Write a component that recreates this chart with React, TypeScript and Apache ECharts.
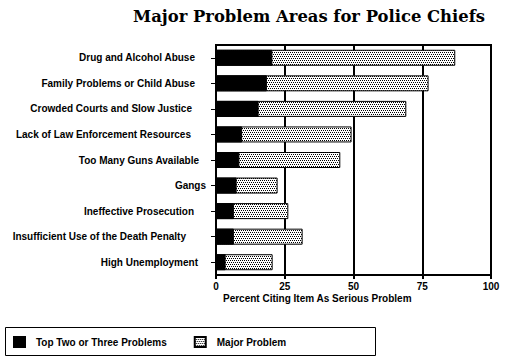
import React, { useEffect, useRef } from "react";
import * as echarts from "echarts";

const categories = [
  "Drug and Alcohol Abuse",
  "Family Problems or Child Abuse",
  "Crowded Courts and Slow Justice",
  "Lack of Law Enforcement Resources",
  "Too Many Guns Available",
  "Gangs",
  "Ineffective Prosecution",
  "Insufficient Use of the Death Penalty",
  "High Unemployment",
];
const topTwoOrThree = [20.5, 18.5, 15.5, 9.5, 8.5, 7.5, 6.5, 6.5, 3.5];
const majorProblem = [87, 77.3, 69.2, 49.3, 45.2, 22.4, 26.3, 31.5, 20.6];
const xTicks = [0, 25, 50, 75, 100];
// per-label extra right padding (layout only)
const labelPad = [11, 11, 14, 15, 7, 0, 12, 20, 8];

const FONT = "'Liberation Sans', Arial, sans-serif";

function makeDots(): string {
  const c = document.createElement("canvas");
  c.width = 4;
  c.height = 4;
  const ctx = c.getContext("2d")!;
  ctx.fillStyle = "#fff";
  ctx.fillRect(0, 0, 4, 4);
  ctx.fillStyle = "#000";
  [
    [0, 0],
    [2, 0],
    [1, 2],
    [3, 2],
  ].forEach(([x, y]) => ctx.fillRect(x, y, 1, 1));
  return c.toDataURL("image/png");
}

export default function App() {
  const ref = useRef<HTMLDivElement>(null);
  useEffect(() => {
    if (!ref.current) return;
    const chart = echarts.init(ref.current, undefined, { renderer: "svg" });
    const dots: any = { image: makeDots(), repeat: "repeat", imageWidth: 4, imageHeight: 4 };
    chart.setOption({
      animation: false,
      backgroundColor: "#fff",
      title: {
        text: "Major Problem Areas for Police Chiefs",
        left: 133,
        top: 8,
        padding: 0,
        textStyle: {
          fontFamily: "'DejaVu Serif', serif",
          fontWeight: "bold",
          fontSize: 16.4,
          color: "#000",
        },
      },
      grid: {
        left: 216,
        top: 45,
        width: 275,
        height: 230,
        show: true,
        borderColor: "#000",
        borderWidth: 2,
        backgroundColor: "transparent",
      },
      xAxis: {
        type: "value",
        min: 0,
        max: 100,
        interval: 25,
        axisLine: { show: true, lineStyle: { color: "#000", width: 2 } },
        axisTick: { show: true, length: 4, lineStyle: { color: "#000", width: 2 } },
        splitLine: { show: true, lineStyle: { color: "#000", width: 2 } },
        axisLabel: {
          margin: 6,
          color: "#000",
          fontFamily: FONT,
          fontWeight: "bold",
          fontSize: 10,
          lineHeight: 10,
          formatter: (v: number) => (xTicks.includes(v) ? String(v) : ""),
        },
      },
      yAxis: {
        type: "category",
        inverse: true,
        data: categories.map((c, i) => ({
          value: c,
          textStyle: { padding: [0, labelPad[i], 0, 0] },
        })),
        axisLine: { show: false },
        axisTick: { show: true, alignWithLabel: true, length: 5, lineStyle: { color: "#000", width: 1 } },
        axisLabel: {
          margin: 10,
          color: "#000",
          fontFamily: FONT,
          fontWeight: "bold",
          fontSize: 10,
        },
      },
      legend: {
        data: ["Top Two or Three Problems", "Major Problem"],
        left: 13,
        top: 336,
        padding: 0,
        icon: "rect",
        itemWidth: 11,
        itemHeight: 10,
        itemGap: 27,
        textStyle: {
          color: "#000",
          fontFamily: FONT,
          fontWeight: "bold",
          fontSize: 10,
          padding: [0, 0, 0, 6],
        },
      },
      graphic: [
        {
          type: "rect",
          shape: { x: 5.5, y: 327.5, width: 370, height: 28 },
          style: { fill: "none", stroke: "#000", lineWidth: 1 },
        },
        {
          type: "text",
          x: 223,
          y: 298,
          style: {
            text: "Percent Citing Item As Serious Problem",
            fill: "#000",
            font: `bold 10px ${FONT}`,
            verticalAlign: "middle",
          },
        },
      ],
      series: [
        {
          name: "Major Problem",
          type: "bar",
          data: majorProblem,
          barWidth: 16,
          barGap: "-100%",
          itemStyle: { color: dots, borderColor: "#000", borderWidth: 1 },
          z: 2,
        },
        {
          name: "Top Two or Three Problems",
          type: "bar",
          data: topTwoOrThree,
          barWidth: 16,
          barGap: "-100%",
          itemStyle: { color: "#000", borderColor: "#000", borderWidth: 1 },
          z: 3,
        },
      ],
    });
    return () => chart.dispose();
  }, []);
  return (
    <div
      ref={ref}
      style={{ position: "fixed", left: 0, top: 0, width: 505, height: 360 }}
    />
  );
}
